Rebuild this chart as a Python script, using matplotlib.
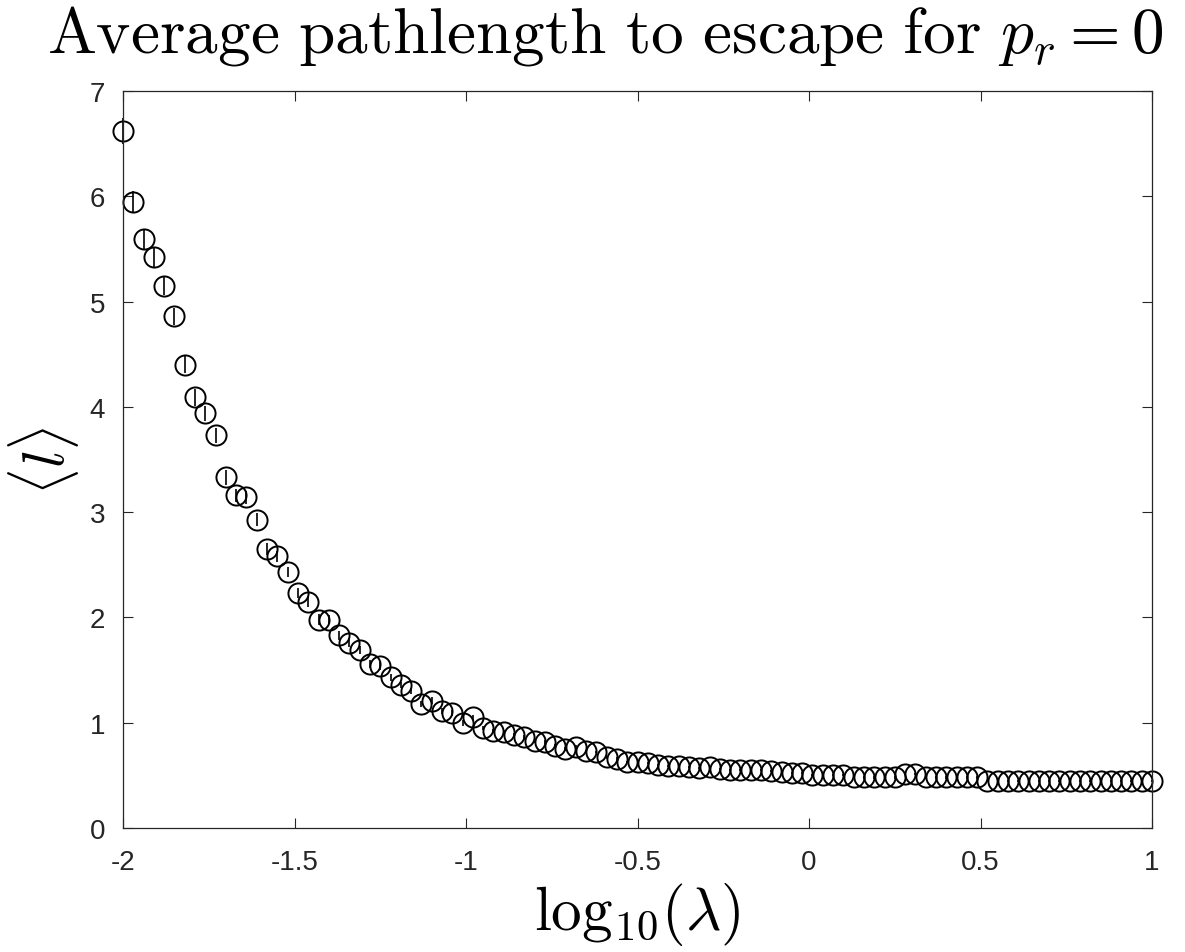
import numpy as np
import matplotlib
matplotlib.use("Agg")
import matplotlib.pyplot as plt

plt.rcParams['mathtext.fontset'] = 'cm'
plt.rcParams['axes.unicode_minus'] = False
plt.rcParams['font.family'] = ['Liberation Sans', 'DejaVu Sans']

# log10(lambda), 101 points from -2 to 1
log_lambda = np.round(np.linspace(-2, 1, 101), 2)

# mean pathlength
mean_len = [
    6.62, 5.95, 5.59, 5.42, 5.15, 4.86, 4.40, 4.09, 3.94, 3.73,
    3.33, 3.16, 3.14, 2.93, 2.65, 2.58, 2.43, 2.23, 2.15, 1.98,
    1.98, 1.83, 1.76, 1.69, 1.56, 1.54, 1.43, 1.36, 1.30, 1.18,
    1.21, 1.11, 1.09, 1.00, 1.05, 0.95, 0.92, 0.91, 0.88, 0.86,
    0.83, 0.82, 0.78, 0.75, 0.77, 0.73, 0.72, 0.67, 0.66, 0.63,
    0.63, 0.62, 0.60, 0.59, 0.59, 0.58, 0.57, 0.58, 0.56, 0.55,
    0.55, 0.55, 0.55, 0.54, 0.53, 0.52, 0.52, 0.50, 0.50, 0.50,
    0.50, 0.48, 0.48, 0.48, 0.48, 0.48, 0.51, 0.51, 0.48, 0.48,
    0.48, 0.48, 0.48, 0.48, 0.45, 0.45, 0.45, 0.45, 0.45, 0.45,
    0.45, 0.45, 0.45, 0.45, 0.45, 0.45, 0.45, 0.45, 0.45, 0.45,
    0.45,
]

# error bar half lengths (visible only near the left)
err_len = [
    0.12, 0.10, 0.09, 0.09, 0.09, 0.08, 0.08, 0.08, 0.07, 0.07,
    0.07, 0.06, 0.06, 0.06, 0.06, 0.05, 0.05, 0.05, 0.05, 0.05,
    0.04, 0.04, 0.04, 0.04, 0.04, 0.04, 0.03, 0.03, 0.03, 0.03,
    0.03, 0.03, 0.03, 0.03, 0.02, 0.02, 0.02, 0.02, 0.02, 0.02,
    0.02, 0.02, 0.02, 0.02, 0.02, 0.01, 0.01, 0.01, 0.01, 0.01,
] + [0.01] * 51

xticks = [-2, -1.5, -1, -0.5, 0, 0.5, 1]
xtick_labels = ['-2', '-1.5', '-1', '-0.5', '0', '0.5', '1']
yticks = [0, 1, 2, 3, 4, 5, 6, 7]
ytick_labels = ['0', '1', '2', '3', '4', '5', '6', '7']

fig = plt.figure(figsize=(11.85, 9.53), dpi=100)
ax = fig.add_axes([0.1038, 0.1301, 0.8684, 0.7734])

eb = ax.errorbar(log_lambda, mean_len, yerr=err_len, fmt='o', color='k',
                 mfc='none', mec='k', ms=14.5, mew=1.4, elinewidth=1.2,
                 capsize=0)
for artist in eb.lines[0:1] + tuple(eb.lines[2]):
    artist.set_clip_on(False)

ax.set_xlim(-2, 1)
ax.set_ylim(0, 7)
ax.set_xticks(xticks)
ax.set_xticklabels(xtick_labels)
ax.set_yticks(yticks)
ax.set_yticklabels(ytick_labels)
ax.tick_params(direction='in', top=True, right=True, length=7, width=0.8,
               labelsize=20, colors='#262626')
ax.tick_params(axis='x', pad=15)
ax.tick_params(axis='y', pad=13)
for s in ax.spines.values():
    s.set_color('#262626')
    s.set_linewidth(0.9)

fig.text(605 / 1185, 1 - 36 / 953,
         r'$\mathrm{Average\ pathlength\ to\ escape\ for\ }p_r = 0$',
         fontsize=47, ha='center', va='center')
ax.set_xlabel(r'$\mathrm{log}_{10}(\lambda)$', fontsize=44, labelpad=4)
ax.set_ylabel(r'$\langle l \rangle$', fontsize=42, labelpad=6)

plt.savefig("out.png", dpi=100)
